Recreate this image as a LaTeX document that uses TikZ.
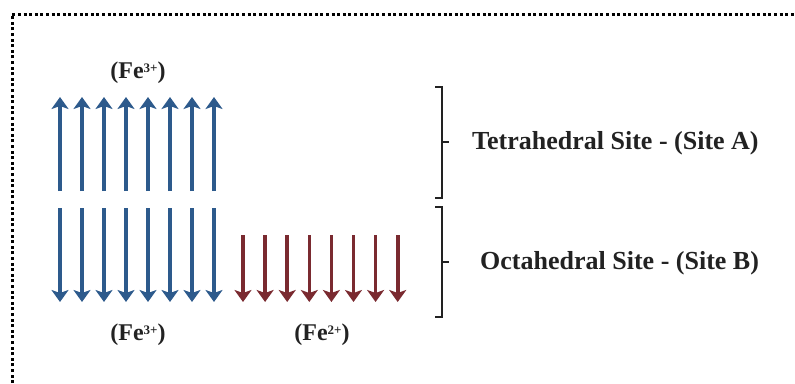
\documentclass[tikz,border=0pt]{standalone}
\usepackage{fontspec}
\setmainfont{Liberation Serif}
\usetikzlibrary{arrows.meta}
\definecolor{spinblue}{HTML}{2D5A8C}
\definecolor{spinred}{HTML}{7A2A30}
\definecolor{inkdark}{HTML}{222222}
\newcommand{\chargesup}[1]{\raisebox{6.5pt}{\fontsize{13}{13}\selectfont #1}}
\tikzset{
  spinarrow/.style={line width=3.6pt, -{Stealth[length=12pt,width=17pt,inset=3pt]}},
  bluespin/.style={spinarrow, draw=spinblue},
  redspin/.style={spinarrow, draw=spinred},
  ionlabel/.style={font=\bfseries\fontsize{24}{28}\selectfont, text=inkdark, inner sep=0pt},
  sitelabel/.style={font=\bfseries\fontsize{26}{30}\selectfont, text=inkdark, inner sep=0pt, anchor=west},
  bracket/.style={draw=inkdark, line width=2.2pt},
  frame/.style={draw=black, line width=3pt, dash pattern=on 3pt off 2.6pt}
}
\begin{document}
\begin{tikzpicture}[x=1pt,y=-1pt]
\useasboundingbox (0,0) rectangle (795,383);
% dotted frame (top and left visible, continues past the edges)
\coordinate (fbl) at (12,400);
\coordinate (ftl) at (12,14);
\coordinate (ftr) at (810,14);
\draw[frame] (fbl) -- (ftl) -- (ftr);
% blue up arrows (tetrahedral Fe3+)
\foreach \i in {0,...,7} {
  \coordinate (ua\i) at ({60+22*\i},191);
  \coordinate (ub\i) at ({60+22*\i},97);
  \draw[bluespin] (ua\i) -- (ub\i);
}
% blue down arrows (octahedral Fe3+)
\foreach \i in {0,...,7} {
  \coordinate (da\i) at ({60+22*\i},208);
  \coordinate (db\i) at ({60+22*\i},302);
  \draw[bluespin] (da\i) -- (db\i);
}
% red down arrows (octahedral Fe2+)
\foreach \i in {0,...,7} {
  \coordinate (ra\i) at ({243+22.1*\i},235);
  \coordinate (rb\i) at ({243+22.1*\i},302);
  \draw[redspin] (ra\i) -- (rb\i);
}
% ion labels
\node[ionlabel] (fetop) at (138,73) {(Fe\chargesup{3+})};
\node[ionlabel] (febot) at (138,335) {(Fe\chargesup{3+})};
\node[ionlabel] (fetwo) at (322,335) {(Fe\chargesup{2+})};
% brackets
\coordinate (b1t) at (435,87);
\coordinate (b1b) at (435,198);
\coordinate (b1m) at (442,142);
\draw[bracket] (b1t) -- (442,87) -- (442,198) -- (b1b);
\draw[bracket] (b1m) -- ++(7,0) coordinate (b1tip);
\coordinate (b2t) at (435,207);
\coordinate (b2b) at (435,317);
\coordinate (b2m) at (442,262);
\draw[bracket] (b2t) -- (442,207) -- (442,317) -- (b2b);
\draw[bracket] (b2m) -- ++(7,0) coordinate (b2tip);
% site labels
\node[sitelabel] (siteA) at (472,143) {Tetrahedral Site - (Site A)};
\node[sitelabel] (siteB) at (480,263) {Octahedral Site - (Site B)};
\end{tikzpicture}
\end{document}
